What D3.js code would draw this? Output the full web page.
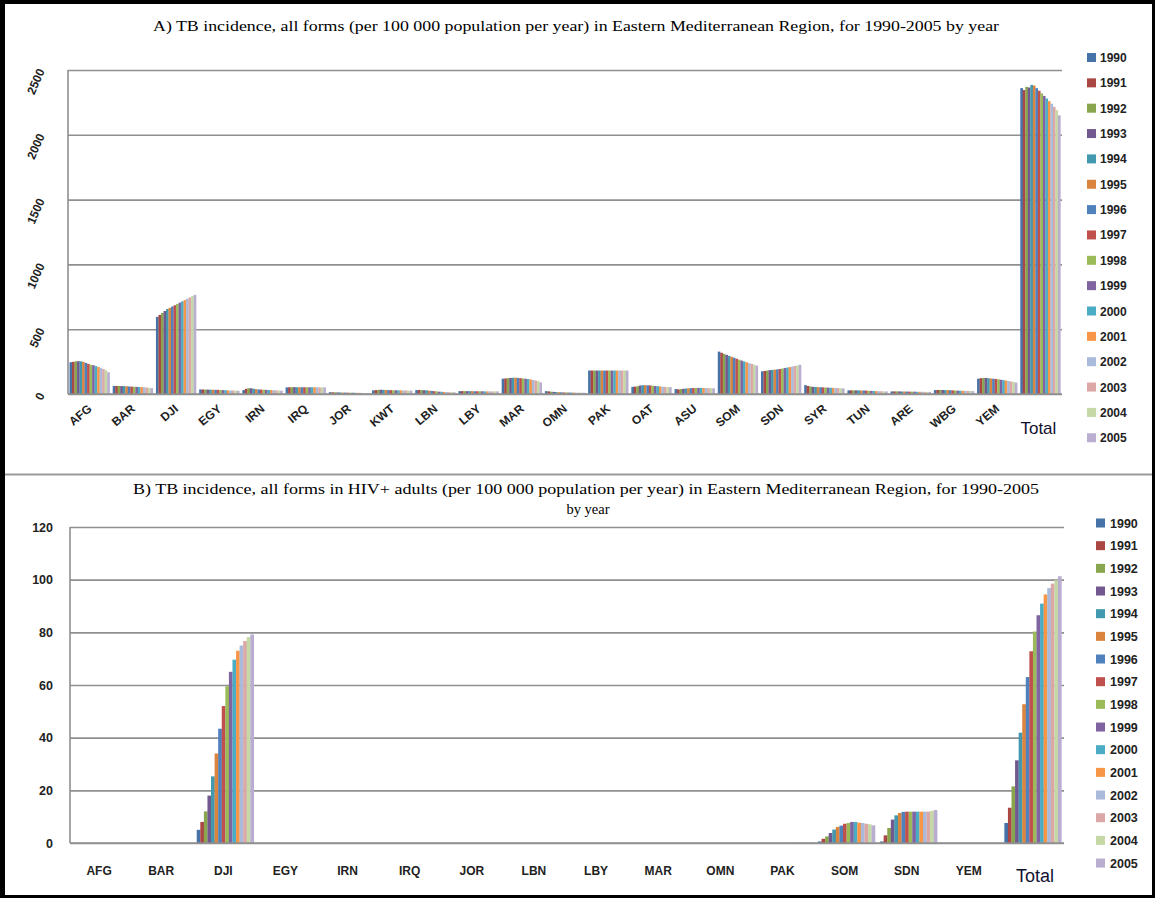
<!DOCTYPE html>
<html>
<head>
<meta charset="utf-8">
<script src="https://cdn.jsdelivr.net/npm/d3@7"></script>
<style>
  html, body { margin: 0; padding: 0; background: #fff; }
  svg { display: block; }
</style>
</head>
<body>
<svg id="chart" width="1160" height="901"></svg>
<script>
// ---------------- DATA ----------------
const years = ["1990","1991","1992","1993","1994","1995","1996","1997","1998","1999","2000","2001","2002","2003","2004","2005"];
const colors = ["#4572A7","#AA4643","#89A54E","#71588F","#4198AF","#DB843D","#4F81BD","#C0504D","#9BBB59","#8064A2","#4BACC6","#F79646","#A9BADB","#DBA8A7","#C5D8A5","#B9AECF"];

// Panel A: TB incidence, all forms
const catsA = ["AFG","BAR","DJI","EGY","IRN","IRQ","JOR","KWT","LBN","LBY","MAR","OMN","PAK","OAT","ASU","SOM","SDN","SYR","TUN","ARE","WBG","YEM","Total"];
const A_AFG = [245,248,252,253,252,248,240,232,225,222,215,208,200,192,183,168];
const A_BAR = [62,62,62,61,61,60,58,57,56,55,54,53,52,50,48,45];
const A_DJI = [595,610,625,640,655,665,675,685,695,705,715,725,735,745,755,765];
const A_EGY = [35,35,34,34,33,33,32,32,31,30,29,28,27,27,26,25];
const A_IRN = [30,40,45,44,40,37,35,34,33,32,31,30,29,28,27,26];
const A_IRQ = [51,52,52,53,52,52,52,52,52,52,52,52,52,51,51,51];
const A_JOR = [14,13,13,12,12,11,11,10,10,10,9,9,9,8,8,8];
const A_KWT = [28,30,32,33,32,31,30,30,29,29,28,28,27,27,26,26];
const A_LBN = [30,31,30,29,28,26,24,22,20,18,17,16,15,14,14,13];
const A_LBY = [22,22,22,22,22,22,21,21,21,21,20,20,20,20,20,20];
const A_MAR = [118,120,122,124,125,126,124,122,120,118,115,112,108,104,100,90];
const A_OMN = [22,20,18,16,15,14,13,12,12,11,11,11,10,10,10,10];
const A_PAK = [181,181,181,181,181,181,181,181,181,181,181,181,181,181,181,181];
const A_QAT = [55,57,60,65,68,68,67,66,64,62,60,58,56,55,54,53];
const A_ASU = [38,36,38,40,42,44,45,46,47,47,47,46,46,45,45,44];
const A_SOM = [327,318,310,302,294,287,280,272,265,258,251,245,238,232,226,218];
const A_SDN = [175,178,181,184,186,188,190,193,196,200,204,208,212,216,220,226];
const A_SYR = [68,62,58,55,54,53,52,51,50,49,48,47,46,45,44,43];
const A_TUN = [28,28,28,28,28,27,27,26,25,24,23,22,22,21,20,20];
const A_ARE = [20,20,20,20,19,19,19,18,18,18,17,17,17,16,16,16];
const A_WBG = [30,31,31,31,30,30,29,28,27,26,25,25,24,24,23,22];
const A_YEM = [118,122,124,124,122,120,118,116,113,110,107,104,100,97,93,88];
const A_TOT = [2360,2345,2370,2365,2385,2380,2360,2340,2320,2300,2280,2260,2240,2215,2190,2150];
const valuesA = [A_AFG,A_BAR,A_DJI,A_EGY,A_IRN,A_IRQ,A_JOR,A_KWT,A_LBN,A_LBY,A_MAR,A_OMN,A_PAK,A_QAT,A_ASU,A_SOM,A_SDN,A_SYR,A_TUN,A_ARE,A_WBG,A_YEM,A_TOT];
const ticksA = [0,500,1000,1500,2000,2500];

// Panel B: TB incidence in HIV+ adults
const catsB = ["AFG","BAR","DJI","EGY","IRN","IRQ","JOR","LBN","LBY","MAR","OMN","PAK","SOM","SDN","YEM","Total"];
const ZERO = [0,0,0,0,0,0,0,0,0,0,0,0,0,0,0,0];
const B_DJI = [5,8,12,18,25.3,34,43.4,52,59.5,65,69.6,73,75,76.7,78.2,79.2];
const B_PAK = [0,0,0,0,0,0,0,0,0,0,0.1,0.1,0.2,0.2,0.2,0.3];
const B_SOM = [0.6,1.6,2.5,3.8,5.1,6.1,6.6,7.3,7.6,8.0,8.0,7.7,7.6,7.3,7.1,6.7];
const B_SDN = [0.6,2.9,5.7,8.9,10.5,11.4,11.8,11.9,11.9,11.9,11.9,11.9,11.9,11.9,12.2,12.5];
const B_TOT = [7.6,13.4,21.5,31.4,41.9,52.7,63,72.8,80.3,86.5,90.9,94.4,96.8,98.5,99.8,101.3];
const valuesB = [ZERO,ZERO,B_DJI,ZERO,ZERO,ZERO,ZERO,ZERO,ZERO,ZERO,ZERO,B_PAK,B_SOM,B_SDN,ZERO,B_TOT];
const ticksB = [0,20,40,60,80,100,120];

const titleA = "A) TB incidence, all forms (per 100 000 population per year) in Eastern Mediterranean  Region, for 1990-2005 by year";
const titleB1 = "B) TB incidence, all forms in HIV+ adults (per 100 000 population per year) in Eastern Mediterranean Region, for 1990-2005";
const titleB2 = "by year";

// ---------------- DRAW ----------------
const svg = d3.select("#chart");
const sans = "'Liberation Sans', Arial, sans-serif";
const serif = "'Liberation Serif', 'Times New Roman', serif";
const gridColor = "#8f8f8f";

// outer frame
svg.append("rect").attr("x",0).attr("y",0).attr("width",1160).attr("height",901).attr("fill","#fff");
svg.append("rect").attr("x",0).attr("y",0).attr("width",5).attr("height",898).attr("fill","#000");
svg.append("rect").attr("x",0).attr("y",0).attr("width",1155).attr("height",4).attr("fill","#000");
svg.append("rect").attr("x",1152).attr("y",0).attr("width",3).attr("height",898).attr("fill","#000");
svg.append("rect").attr("x",0).attr("y",895).attr("width",1155).attr("height",3).attr("fill","#000");
// divider
svg.append("line").attr("x1",5).attr("x2",1152).attr("y1",474.5).attr("y2",474.5)
  .attr("stroke","#9a9a9a").attr("stroke-width",2);

function panel(opts) {
  const {cats, values, ticks, x0, x1, yTop, yBot, ymax, pad} = opts;
  const g = svg.append("g");
  const x = d3.scaleBand().domain(cats).range([x0, x1]).paddingInner(pad).paddingOuter(pad/2);
  const xi = d3.scaleBand().domain(years).range([0, x.bandwidth()]);
  const y = d3.scaleLinear().domain([0, ymax]).range([yBot, yTop]);

  const grid = g.append("g").attr("transform", `translate(${x0},0)`)
    .call(d3.axisLeft(y).tickValues(ticks).tickSize(-(x1 - x0)).tickFormat(""));
  grid.select(".domain").remove();
  grid.selectAll(".tick line").attr("stroke", gridColor).attr("stroke-width", 1.6);

  cats.forEach((c, ci) => {
    g.append("g").attr("transform", `translate(${x(c)},0)`)
      .selectAll("rect").data(values[ci]).join("rect")
      .attr("x", (d, i) => xi(years[i]))
      .attr("width", xi.bandwidth() + 0.15)
      .attr("y", d => y(d))
      .attr("height", d => yBot - y(d))
      .attr("fill", (d, i) => colors[i]);
  });

  g.append("line").attr("x1", x0).attr("x2", x0).attr("y1", yTop).attr("y2", yBot)
    .attr("stroke", gridColor).attr("stroke-width", 1.6);
  g.append("line").attr("x1", x0).attr("x2", x1).attr("y1", yBot).attr("y2", yBot)
    .attr("stroke", gridColor).attr("stroke-width", 1.6);
  return {g, x, y};
}

// ---- Panel A ----
const pA = panel({cats: catsA, values: valuesA, ticks: ticksA, x0: 68, x1: 1062, yTop: 70, yBot: 394, ymax: 2500, pad: 0.07});
svg.append("text").attr("x", 576).attr("y", 31).attr("text-anchor","middle")
  .attr("font-family", serif).attr("font-size", 14.5).attr("fill","#000")
  .attr("textLength", 846).attr("lengthAdjust","spacingAndGlyphs").text(titleA);

pA.g.selectAll(".ylab").data(ticksA).join("text")
  .attr("transform", d => `translate(45,${pA.y(d) + 1}) rotate(-66)`)
  .attr("text-anchor","end")
  .attr("font-family", sans).attr("font-weight","bold").attr("font-size", 12).attr("fill","#222")
  .text(d => d);

pA.g.selectAll(".xlab").data(catsA.filter(c => c !== "Total")).join("text")
  .attr("transform", c => `translate(${pA.x(c) + pA.x.bandwidth()/2 + 3},${410}) rotate(-40)`)
  .attr("text-anchor","end")
  .attr("font-family", sans).attr("font-weight","bold").attr("font-size", 12).attr("fill","#222")
  .text(c => c);
pA.g.append("text").attr("x", pA.x("Total") + pA.x.bandwidth()/2 - 2).attr("y", 434)
  .attr("text-anchor","middle").attr("font-family", sans).attr("font-size", 17).attr("fill","#111130")
  .text("Total");

const legA = svg.append("g");
years.forEach((yr, i) => {
  const cy = 57.5 + i * 25.35;
  legA.append("rect").attr("x", 1087).attr("y", cy - 4.5).attr("width", 9).attr("height", 9).attr("fill", colors[i]);
  legA.append("text").attr("x", 1100).attr("y", cy + 4.5)
    .attr("font-family", sans).attr("font-weight","bold").attr("font-size", 12).attr("fill","#222").text(yr);
});

// ---- Panel B ----
const pB = panel({cats: catsB, values: valuesB, ticks: ticksB, x0: 70, x1: 1064, yTop: 527, yBot: 843, ymax: 120, pad: 0.08});
svg.append("text").attr("x", 586).attr("y", 494).attr("text-anchor","middle")
  .attr("font-family", serif).attr("font-size", 14.5).attr("fill","#000")
  .attr("textLength", 906).attr("lengthAdjust","spacingAndGlyphs").text(titleB1);
svg.append("text").attr("x", 588).attr("y", 514).attr("text-anchor","middle")
  .attr("font-family", serif).attr("font-size", 14.5).attr("fill","#000")
  .text(titleB2);

pB.g.selectAll(".ylab").data(ticksB).join("text")
  .attr("x", 53).attr("y", d => pB.y(d) + 4.5)
  .attr("text-anchor","end")
  .attr("font-family", sans).attr("font-weight","bold").attr("font-size", 12.5).attr("fill","#222")
  .text(d => d);

pB.g.selectAll(".xlab").data(catsB.filter(c => c !== "Total")).join("text")
  .attr("x", c => pB.x(c) + pB.x.bandwidth()/2 - 2).attr("y", 875)
  .attr("text-anchor","middle")
  .attr("font-family", sans).attr("font-weight","bold").attr("font-size", 12).attr("fill","#222")
  .text(c => c);
pB.g.append("text").attr("x", pB.x("Total") + pB.x.bandwidth()/2 + 2).attr("y", 882)
  .attr("text-anchor","middle").attr("font-family", sans).attr("font-size", 18).attr("fill","#111130")
  .text("Total");

const legB = svg.append("g");
years.forEach((yr, i) => {
  const cy = 523 + i * 22.67;
  legB.append("rect").attr("x", 1096).attr("y", cy - 4.5).attr("width", 9).attr("height", 9).attr("fill", colors[i]);
  legB.append("text").attr("x", 1110).attr("y", cy + 4.5)
    .attr("font-family", sans).attr("font-weight","bold").attr("font-size", 12.5).attr("fill","#222").text(yr);
});
</script>
</body>
</html>
